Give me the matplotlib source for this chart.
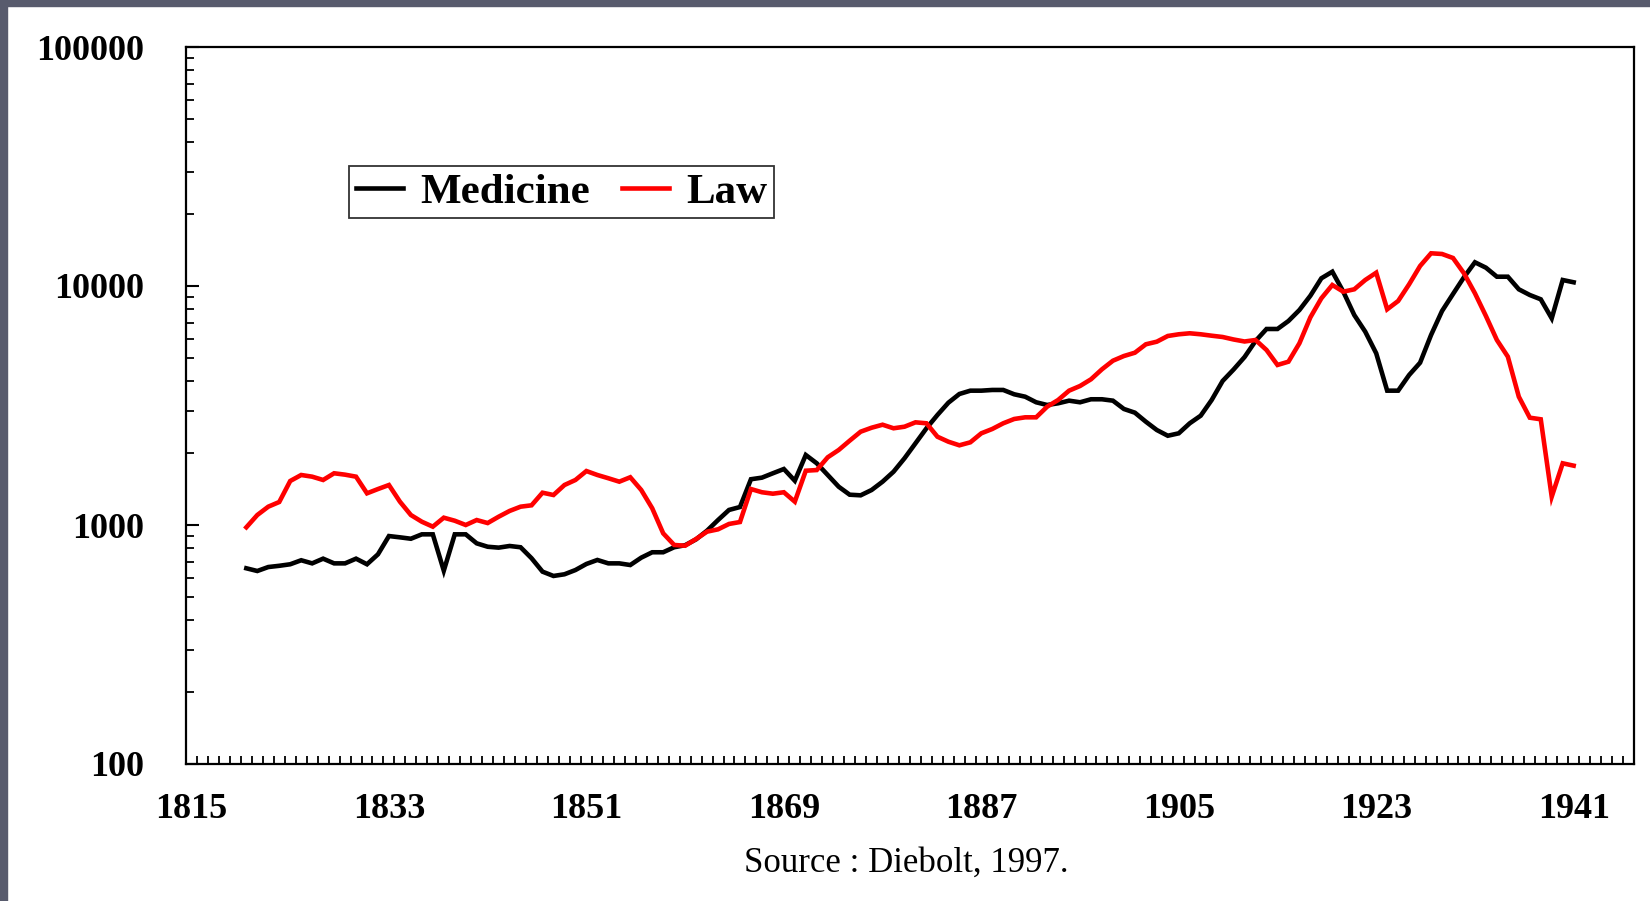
import matplotlib
matplotlib.use("Agg")
import matplotlib.pyplot as plt
from matplotlib.patches import Rectangle
from matplotlib.ticker import FixedLocator, LogLocator, NullFormatter

years = list(range(1820, 1942))

medicine = [659, 642, 667, 675, 685, 712, 691, 723, 691, 691,
            723, 685, 754, 899, 888, 876, 914, 914, 644, 914,
            914, 838, 811, 804, 817, 807, 726, 638, 612, 622,
            648, 687, 714, 691, 691, 680, 730, 769, 769, 807,
            823, 871, 947, 1049, 1156, 1189, 1554, 1578, 1646, 1715,
            1532, 1963, 1812, 1619, 1446, 1339, 1331, 1401, 1518, 1671,
            1902, 2197, 2539, 2886, 3249, 3533, 3648, 3648, 3673, 3673,
            3523, 3442, 3262, 3178, 3230, 3313, 3262, 3358, 3358, 3313,
            3058, 2951, 2705, 2497, 2363, 2419, 2664, 2867, 3334, 4005,
            4474, 5045, 5888, 6609, 6609, 7138, 7935, 9108, 10770, 11477,
            9467, 7560, 6440, 5228, 3648, 3648, 4242, 4776, 6237, 7859,
            9258, 10884, 12567, 11930, 10937, 10937, 9687, 9170, 8797, 7324,
            10595, 10364]

law = [978, 1101, 1193, 1248, 1528, 1619, 1593, 1543, 1646, 1624,
       1593, 1357, 1414, 1470, 1252, 1101, 1032, 984, 1073, 1042,
       1000, 1049, 1019, 1083, 1145, 1193, 1209, 1365, 1335, 1470,
       1543, 1682, 1619, 1569, 1518, 1584, 1401, 1175, 923, 825,
       819, 874, 938, 959, 1010, 1029, 1414, 1371, 1352, 1371,
       1252, 1687, 1698, 1920, 2060, 2253, 2457, 2553, 2628, 2539,
       2578, 2689, 2664, 2341, 2231, 2155, 2218, 2419, 2522, 2664,
       2777, 2822, 2822, 3126, 3334, 3648, 3816, 4071, 4483, 4869,
       5094, 5259, 5703, 5848, 6178, 6280, 6341, 6280, 6195, 6118,
       5973, 5859, 5944, 5398, 4673, 4823, 5759, 7396, 8882, 10097,
       9467, 9687, 10595, 11366, 7989, 8655, 10165, 12126, 13704, 13613,
       13098, 11302, 9322, 7491, 5944, 5061, 3442, 2812, 2769, 1313,
       1812, 1771]

label_years = [1815, 1833, 1851, 1869, 1887, 1905, 1923, 1941]
y_ticks = [100, 1000, 10000, 100000]
y_labels = ["100", "1000", "10000", "100000"]

serif = "Liberation Serif"

fig = plt.figure(figsize=(16.5, 9.01), dpi=100)
fig.patch.set_facecolor("white")

# dark slide frame on top and left edge
frame_col = "#585b6d"
fig.add_artist(Rectangle((0, 1 - 6 / 901), 1, 6 / 901, transform=fig.transFigure,
                         color=frame_col, zorder=0))
fig.add_artist(Rectangle((0, 0), 7 / 1650, 1, transform=fig.transFigure,
                         color=frame_col, zorder=0))

ax = fig.add_axes([186 / 1650, 1 - 764 / 901, (1634 - 186) / 1650, (764 - 47) / 901])

ax.plot(years, medicine, color="black", lw=3.3, label="Medicine", solid_joinstyle="miter")
ax.plot(years, law, color="#ff0000", lw=3.3, label="Law", solid_joinstyle="miter")

ax.set_yscale("log")
ax.set_ylim(100, 100000)
ax.set_xlim(1814.5, 1946.5)

ax.yaxis.set_major_locator(FixedLocator(y_ticks))
ax.set_yticklabels(y_labels)
ax.yaxis.set_minor_locator(LogLocator(base=10, subs=range(2, 10)))
ax.yaxis.set_minor_formatter(NullFormatter())

ax.xaxis.set_major_locator(FixedLocator(label_years))
ax.set_xticklabels([str(y) for y in label_years])
ax.xaxis.set_minor_locator(FixedLocator([y + 0.5 for y in range(1814, 1946)]))

ax.tick_params(axis="x", which="major", length=0, pad=21)
ax.tick_params(axis="x", which="minor", direction="in", length=6, width=1.3)
ax.tick_params(axis="y", which="major", direction="in", length=9, width=1.5, pad=30)
ax.tick_params(axis="y", which="minor", direction="in", length=6, width=1.3)

for lab in ax.get_xticklabels() + ax.get_yticklabels():
    lab.set_fontfamily(serif)
    lab.set_fontweight("bold")
    lab.set_fontsize(26)

for s in ax.spines.values():
    s.set_linewidth(1.6)

leg = ax.legend(loc="upper left", bbox_to_anchor=(0.1126, 0.834), borderaxespad=0,
                ncol=2, frameon=True, fancybox=False, edgecolor="black",
                handlelength=1.1, handletextpad=0.4, columnspacing=0.75,
                borderpad=0.15, prop={"family": serif, "weight": "bold", "size": 31})
leg.get_frame().set_linewidth(1.3)
for h in leg.get_lines():
    h.set_linewidth(3.3)

fig.text(861 * 1650 / 1568 / 1650, 1 - 863 / 901, "Source : Diebolt, 1997.",
         ha="center", va="center", fontfamily=serif, fontsize=25)

fig.savefig("out.png", dpi=100, facecolor=fig.get_facecolor())
